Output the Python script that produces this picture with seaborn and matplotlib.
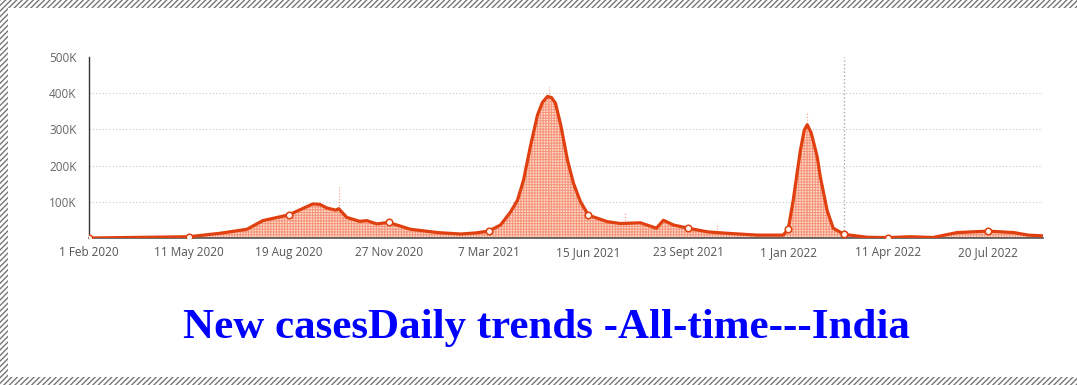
import numpy as np
import pandas as pd
import seaborn as sns
import matplotlib.pyplot as plt
import matplotlib.dates as mdates
from matplotlib.patches import Rectangle
from matplotlib.ticker import FixedLocator, FuncFormatter

# daily new cases (7-day avg)
dates = ['2020-02-01', '2020-05-11', '2020-06-11', '2020-07-08', '2020-07-24',
         '2020-08-19', '2020-09-12', '2020-09-19', '2020-09-26', '2020-10-05',
         '2020-10-08', '2020-10-16', '2020-10-29', '2020-11-05', '2020-11-15',
         '2020-11-27', '2020-12-19', '2021-01-15', '2021-02-07', '2021-02-22',
         '2021-03-07', '2021-03-19', '2021-03-29', '2021-04-05', '2021-04-11',
         '2021-04-18', '2021-04-25', '2021-04-30', '2021-05-05', '2021-05-09',
         '2021-05-13', '2021-05-18',
         '2021-05-25', '2021-05-31', '2021-06-07', '2021-06-15', '2021-07-04',
         '2021-07-17', '2021-08-06', '2021-08-22', '2021-08-29', '2021-09-08',
         '2021-09-23', '2021-10-12', '2021-11-01', '2021-12-01', '2021-12-27',
         '2022-01-01', '2022-01-06', '2022-01-13', '2022-01-17', '2022-01-20',
         '2022-01-24', '2022-01-30',
         '2022-02-02', '2022-02-09', '2022-02-15', '2022-02-26', '2022-03-21',
         '2022-04-11', '2022-05-03', '2022-05-26', '2022-06-19', '2022-07-20',
         '2022-08-15', '2022-08-29', '2022-09-13']
cases = [0, 3500, 13000, 24000, 48000,
         64000, 94000, 93000, 83000, 77000,
         81000, 57000, 46000, 48000, 39000,
         43000, 24000, 15000, 11000, 14000,
         19000, 36000, 72000, 105000, 160000,
         255000, 340000, 375000, 391000, 388000,
         372000, 315000,
         215000, 151000, 100000, 63000, 45000,
         40000, 42000, 27000, 49000, 36000,
         27000, 17000, 13000, 8000, 8000,
         25000, 105000, 240000, 298000, 313000,
         290000, 224000,
         170000, 75000, 27000, 10000, 2000,
         1200, 3500, 1500, 15000, 19000,
         15000, 8000, 6000]

# single-day reports sticking out above the average
spike_dates = ['2020-10-08', '2021-05-06', '2021-07-22', '2021-10-22', '2022-01-20']
spike_vals = [146000, 416000, 72000, 42000, 348000]

marker_dates = ['2020-02-01', '2020-05-11', '2020-08-19', '2020-11-27', '2021-03-07',
                '2021-06-15', '2021-09-23', '2022-01-01', '2022-02-26', '2022-04-11',
                '2022-07-20']
tick_dates = ['2020-02-01', '2020-05-11', '2020-08-19', '2020-11-27', '2021-03-07',
              '2021-06-15', '2021-09-23', '2022-01-01', '2022-04-11', '2022-07-20']
tick_labels = ['1 Feb 2020', '11 May 2020', '19 Aug 2020', '27 Nov 2020', '7 Mar 2021',
               '15 Jun 2021', '23 Sept 2021', '1 Jan 2022', '11 Apr 2022', '20 Jul 2022']
y_ticks = [100000, 200000, 300000, 400000, 500000]
hover_date = '2022-02-26'

df = pd.DataFrame({'date': pd.to_datetime(dates), 'cases': cases})
mk = df[df['date'].isin(pd.to_datetime(marker_dates))]

sns.set_style('white')
plt.rcParams['font.family'] = ['Open Sans', 'DejaVu Sans']
plt.rcParams['hatch.linewidth'] = 0.7

fig = plt.figure(figsize=(10.77, 3.85), dpi=100)
ax = fig.add_axes([89 / 1077, 1 - 238 / 385, (1043 - 89) / 1077, (238 - 57) / 385])

line_c = '#e0400f'
ax.fill_between(df['date'], 0, df['cases'], facecolor='#fdd9cc', edgecolor='#f59478',
                hatch='++++++', linewidth=0, zorder=1)
ax.vlines(pd.to_datetime(spike_dates), 0, spike_vals, colors='#f59a80', linewidth=0.8,
          linestyles=':', zorder=1)
sns.lineplot(data=df, x='date', y='cases', ax=ax, color=line_c, linewidth=2.3, zorder=3)
ax.scatter(mk['date'], mk['cases'], s=22, facecolor='#fff4ef', edgecolor=line_c,
           linewidth=1.1, zorder=4)

ax.axvline(pd.to_datetime(hover_date), color='#aaaaaa', linestyle=':', linewidth=1, zorder=0)
for v in y_ticks[:-1]:
    ax.axhline(v, color='#c8c8c8', linestyle=(0, (1, 2)), linewidth=0.8, zorder=0)

ax.set_xlim(pd.Timestamp(dates[0]), pd.Timestamp(dates[-1]))
ax.set_ylim(0, 500000)
ax.xaxis.set_major_locator(FixedLocator(mdates.date2num(pd.to_datetime(tick_dates))))
ax.set_xticklabels(tick_labels)
ax.set_yticks(y_ticks)
ax.yaxis.set_major_formatter(FuncFormatter(lambda v, p: f'{int(v / 1000)}K'))
ax.tick_params(axis='x', length=4, width=1, color='#555555', labelsize=8.5,
               labelcolor='#555555', pad=2)
ax.tick_params(axis='y', length=0, labelsize=8.5, labelcolor='#666666', pad=9)
ax.set_xlabel('')
ax.set_ylabel('')
for s in ['top', 'right']:
    ax.spines[s].set_visible(False)
ax.spines['left'].set_color('#333333')
ax.spines['left'].set_linewidth(1)
ax.spines['bottom'].set_color('#555555')
ax.spines['bottom'].set_linewidth(1.2)

fig.text(546 / 1077, 1 - 328 / 385, 'New casesDaily trends -All-time---India',
         ha='center', va='center', color='#0000ff', fontsize=31, fontweight='bold',
         family='Liberation Serif')

# hatched page border (top, left, bottom)
plt.rcParams['hatch.linewidth'] = 1.0
for (x0, y0, w, h) in [(0, 1 - 8 / 385, 1, 8 / 385), (0, 0, 8 / 1077, 1), (0, 0, 1, 8 / 385)]:
    fig.add_artist(Rectangle((x0, y0), w, h, transform=fig.transFigure, facecolor='white',
                             edgecolor='#777777', hatch='//////', linewidth=0))

fig.savefig('out.png', dpi=100)
